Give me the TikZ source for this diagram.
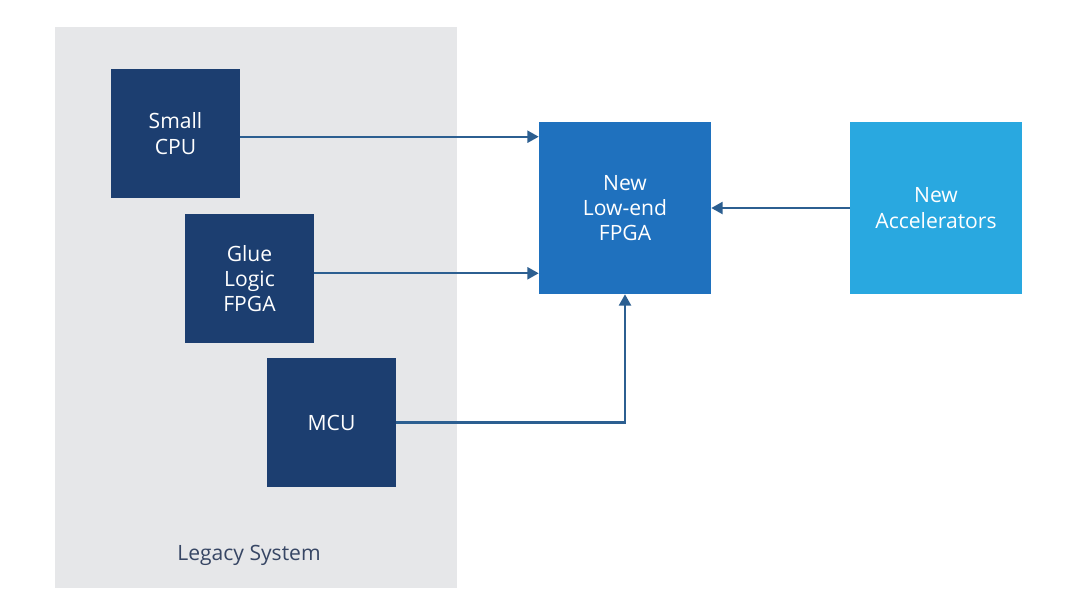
\documentclass[tikz,border=0pt]{standalone}
\usepackage{fontspec}
\setmainfont{Open Sans}
\usetikzlibrary{arrows.meta}
\definecolor{legacygray}{RGB}{230,231,233}
\definecolor{oldblue}{RGB}{28,62,112}
\definecolor{fpgablue}{RGB}{31,113,190}
\definecolor{accblue}{RGB}{41,168,224}
\definecolor{linkblue}{RGB}{44,95,145}
\definecolor{labelgray}{RGB}{55,70,100}
\begin{document}
\begin{tikzpicture}[
	oldbox/.style={shape=rectangle, fill=oldblue, text=white, minimum size=3.225cm, align=center, inner sep=0pt, font=\fontsize{15}{18}\selectfont},
	newbox/.style={shape=rectangle, text=white, minimum size=4.3cm, align=center, inner sep=0pt, font=\fontsize{15}{18}\selectfont},
	arr/.style={draw=linkblue, line width=1.5pt, -{Triangle[length=8pt,width=8.5pt]}}]
		\useasboundingbox (0,0) rectangle (27,15.2);
		\fill[legacygray] (1.375,0.5) rectangle (11.425,14.525);
		\node (legacy) at (6.225,1.325) [text=labelgray, font=\fontsize{15}{18}\selectfont] {Legacy System};
		\node (cpu) at (4.3875,11.8625) [oldbox] {Small\\CPU};
		\node (glue) at (6.2375,8.2375) [oldbox] {Glue\\Logic\\FPGA};
		\node (mcu) at (8.2875,4.6375) [oldbox] {MCU};
		\node (fpga) at (15.625,10) [newbox, fill=fpgablue] {New\\Low-end\\FPGA};
		\node (acc) at (23.4,10) [newbox, fill=accblue] {New\\Accelerators};
		\coordinate (in1) at ([yshift=-0.375cm]fpga.north west);
		\coordinate (in2) at ([yshift=0.525cm]fpga.south west);
		\draw[arr] (cpu.east |- in1) -- (in1);
		\draw[arr] (glue.east |- in2) -- (in2);
		\draw[arr] (mcu.east) -| (fpga.south);
		\draw[arr] (acc.west) -- (fpga.east);
\end{tikzpicture}
\end{document}
